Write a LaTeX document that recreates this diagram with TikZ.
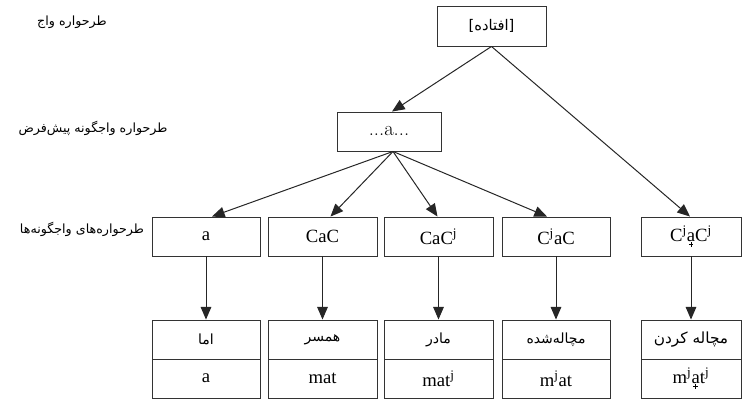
\documentclass[tikz,border=0pt]{standalone}
\usepackage{fontspec}
\usetikzlibrary{arrows.meta,calc}
\TeXXeTstate=1
\newfontfamily\fafont[Script=Arabic]{DejaVu Sans}
\newfontfamily\tnr{Liberation Serif}
\newcommand{\fa}[1]{{\fafont\beginR #1\endR}}
\newcommand{\pmark}{\makebox[0.24em][l]{\rule[0.1em]{0.24em}{0.04em}\kern-0.14em\rule{0.04em}{0.24em}}}
\newcommand{\plusa}{{\ooalign{a\cr\hidewidth\raisebox{-0.27em}{\pmark}\hidewidth\cr}}}
\begin{document}
\begin{tikzpicture}[x=0.75pt,y=-0.75pt,
  box/.style={draw=black!80,line width=0.7pt,rectangle,inner sep=0pt,anchor=center},
  lat/.style={font=\tnr\fontsize{14}{16}\selectfont},
  fal/.style={font=\fontsize{9.5}{11}\selectfont},
  fab/.style={font=\fontsize{10.5}{12}\selectfont},
  arr/.style={draw=black!85,line width=0.75pt,-{Triangle[length=9.5pt,width=8pt]}}]
\useasboundingbox (0,0) rectangle (743,399);
% labels
\node[fal] (l1) at (72,22) {\fa{طرحواره واج}};
\node[fal] (l2) at (93,128) {\fa{طرحواره واجگونه پیش‌فرض}};
\node[fal] (l3) at (82,229) {\fa{طرحواره‌های واجگونه‌ها}};
% top
\node[box,minimum width=81.75pt,minimum height=30pt,font=\fontsize{11}{12}\selectfont] (top) at (491.5,26) {\fa{[افتاده]}};
\node[box,minimum width=78pt,minimum height=29.25pt,font=\fontsize{15.5}{17}\selectfont] (mid) at (389,131.5) {...a...};
% row boxes
\node[box,minimum width=81pt,minimum height=29.25pt,lat] (b1) at (206,236.5) {a};
\node[box,minimum width=81.75pt,minimum height=29.25pt,lat] (b2) at (322.5,236.5) {CaC};
\node[box,minimum width=81.75pt,minimum height=29.25pt,lat] (b3) at (438.5,236.5) {CaC\textsuperscript{j}};
\node[box,minimum width=81pt,minimum height=29.25pt,lat] (b4) at (556,236.5) {C\textsuperscript{j}aC};
\node[box,minimum width=75pt,minimum height=29.25pt,lat] (b5) at (691,236.5) {C\textsuperscript{j}\plusa C\textsuperscript{j}};
% bottom persian
\node[box,minimum width=81pt,minimum height=29.25pt,fab] (p1) at (206,339.5) {\fa{اما}};
\node[box,minimum width=81.75pt,minimum height=29.25pt,fab] (p2) at (322.5,339.5) {\fa{همسر}};
\node[box,minimum width=81.75pt,minimum height=29.25pt,fab] (p3) at (438.5,339.5) {\fa{مادر}};
\node[box,minimum width=81pt,minimum height=29.25pt,fab] (p4) at (556,339.5) {\fa{مچاله‌شده}};
\node[box,minimum width=75pt,minimum height=29.25pt,font=\fontsize{11.5}{13}\selectfont] (p5) at (691,339.5) {\fa{مچاله کردن}};
% bottom latin
\node[box,minimum width=81pt,minimum height=29.25pt,lat] (q1) at (206,378.5) {a};
\node[box,minimum width=81.75pt,minimum height=29.25pt,lat] (q2) at (322.5,378.5) {mat};
\node[box,minimum width=81.75pt,minimum height=29.25pt,lat] (q3) at (438.5,378.5) {mat\textsuperscript{j}};
\node[box,minimum width=81pt,minimum height=29.25pt,lat] (q4) at (556,378.5) {m\textsuperscript{j}at};
\node[box,minimum width=75pt,minimum height=29.25pt,lat] (q5) at (691,378.5) {m\textsuperscript{j}\plusa t\textsuperscript{j}};
% arrows
\draw[arr] (top.south) -- ($(mid.north)+(3,0)$);
\draw[arr] (top.south) -- ($(b5.north)+(-1,0)$);
\draw[arr] ($(mid.south)+(4,0)$) -- ($(b1.north)+(6,0)$);
\draw[arr] ($(mid.south)+(4,0)$) -- ($(b2.north)+(8,0)$);
\draw[arr] ($(mid.south)+(4,0)$) -- ($(b3.north)+(-1,0)$);
\draw[arr] ($(mid.south)+(4,0)$) -- ($(b4.north)+(-9,0)$);
\foreach \i in {1,...,5} {\draw[arr] (b\i.south) -- (p\i.north);}
\end{tikzpicture}
\end{document}
